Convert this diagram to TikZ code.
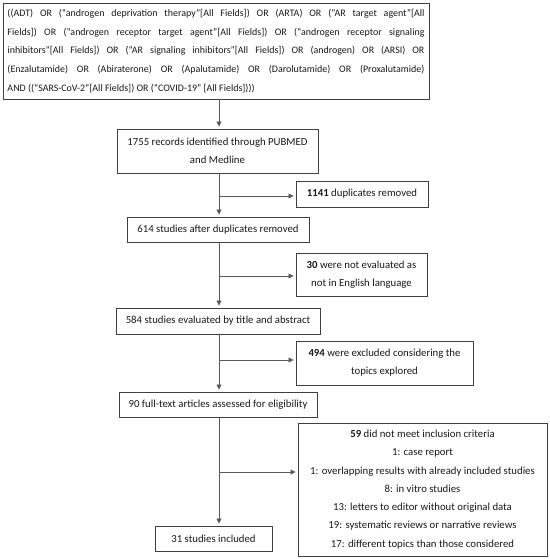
\documentclass[tikz,border=0pt]{standalone}
\usepackage{fontspec}
\setmainfont{Carlito}
\usetikzlibrary{arrows.meta}
\begin{document}
\begin{tikzpicture}[x=1bp,y=-1bp,
  box/.style={draw=black!75, line width=0.9bp, inner sep=0pt, align=center,
    font=\fontsize{10.8}{18.3}\selectfont, text=black!90},
  arr/.style={draw=black!65, line width=0.8bp, -{Triangle[length=5bp,width=5bp]}, shorten >=2bp}]
\useasboundingbox (0,0) rectangle (550,559);
\coordinate (spine) at (219,0);
\node[box, minimum width=426bp, minimum height=96bp, text width=417bp, align=justify,
  font=\fontsize{10}{18.8}\selectfont] (q) at (216,51)
{((ADT) OR (“androgen deprivation therapy”[All Fields]) OR (ARTA) OR (“AR target agent”[All\linebreak Fields]) OR (“androgen receptor target agent”[All Fields]) OR (“androgen receptor signaling\linebreak inhibitors”[All Fields]) OR (“AR signaling inhibitors”[All Fields]) OR (androgen) OR (ARSI) OR\linebreak (Enzalutamide) OR (Abiraterone) OR (Apalutamide) OR (Darolutamide) OR (Proxalutamide)\linebreak AND ((“SARS-CoV-2”[All Fields]) OR (“COVID-19” [All Fields])))};
\node[box, minimum width=201bp, minimum height=44bp] (b2) at (217.5,151) {1755 records identified through PUBMED\\and Medline};
\node[box, minimum width=182bp, minimum height=25bp] (b3) at (218,229.5) {614 studies after duplicates removed};
\node[box, minimum width=204bp, minimum height=26bp] (b4) at (218,321) {584 studies evaluated by title and abstract};
\node[box, minimum width=198bp, minimum height=25bp] (b5) at (218,404.5) {90 full-text articles assessed for eligibility};
\node[box, minimum width=117bp, minimum height=25bp] (b6) at (213.5,538.5) {31 studies included};
\node[box, minimum width=132bp, minimum height=26bp] (r1) at (362,194) {\textbf{1141} duplicates removed};
\node[box, minimum width=131bp, minimum height=43bp] (r2) at (361.5,274.5) {\textbf{30} were not evaluated as\\not in English language};
\node[box, minimum width=177bp, minimum height=44bp] (r3) at (384.5,363) {\textbf{494} were excluded considering the\\topics explored};
\node[box, minimum width=249bp, minimum height=133bp] (r4) at (422.5,489.5) {\textbf{59} did not meet inclusion criteria\\1: case report\\1: overlapping results with already included studies\\8: in vitro studies\\13: letters to editor without original data\\19: systematic reviews or narrative reviews\\17: different topics than those considered};
\draw[arr] (q.south -| spine) -- (b2.north -| spine);
\draw[arr] (b2.south -| spine) -- (b3.north -| spine);
\draw[arr] (b3.south -| spine) -- (b4.north -| spine);
\draw[arr] (b4.south -| spine) -- (b5.north -| spine);
\draw[arr] (b5.south -| spine) -- (b6.north -| spine);
\coordinate (j1) at (219,196);
\coordinate (j2) at (219,276);
\coordinate (j3) at (219,360);
\coordinate (j4) at (219,472);
\draw[arr] (j1) -- (r1.west |- j1);
\draw[arr] (j2) -- (r2.west |- j2);
\draw[arr] (j3) -- (r3.west |- j3);
\draw[arr] (j4) -- (r4.west |- j4);
\end{tikzpicture}
\end{document}
